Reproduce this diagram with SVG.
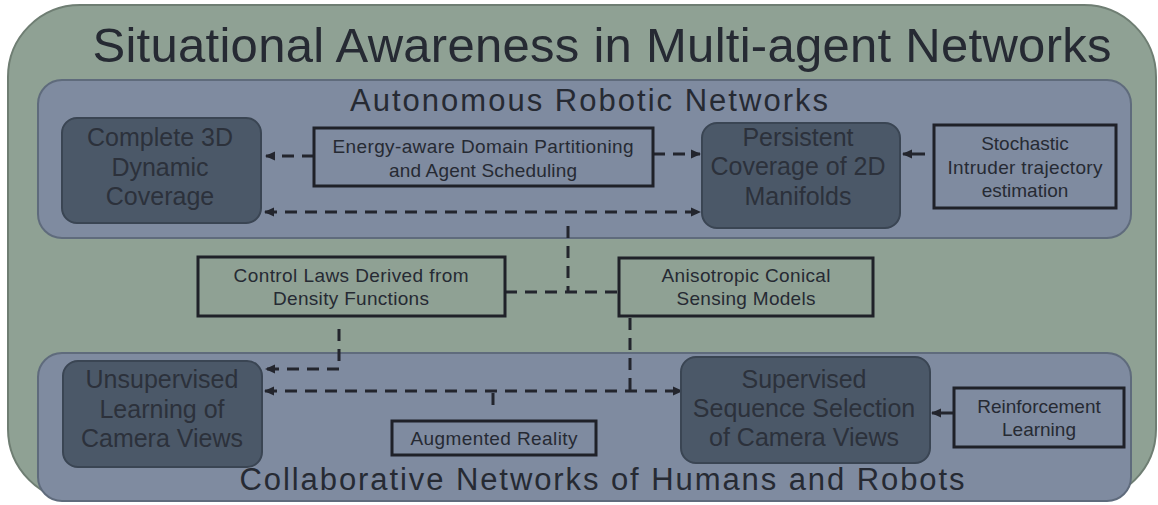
<svg xmlns="http://www.w3.org/2000/svg" width="1158" height="505" viewBox="0 0 1158 505">
  <defs>
    <marker id="ah" viewBox="0 0 10 10" refX="9" refY="5" markerWidth="10" markerHeight="10" markerUnits="userSpaceOnUse" orient="auto-start-reverse">
      <path d="M0,0.5 L10,5 L0,9.5 Z" fill="#23252d"/>
    </marker>
  </defs>
  <style>
    text { font-family: "Liberation Sans", Arial, sans-serif; fill: #262a33; text-anchor: middle; }
    .title { font-size: 49px; }
    .panel-title { font-size: 31px; }
    .big { font-size: 25px; fill: #2c313b; }
    .small { font-size: 19px; }
    .outer { fill: #8fa194; stroke: #6f7e73; stroke-width: 2; }
    .panel { fill: #7f8ba0; stroke: #5f6b7c; stroke-width: 2; }
    .core { fill: #4b5868; stroke: #3a4553; stroke-width: 2; }
    .method { fill: none; stroke: #1f2128; stroke-width: 3; }
    .dash { fill: none; stroke: #23252d; stroke-width: 3; stroke-dasharray: 12 8; }
    .solid { fill: none; stroke: #23252d; stroke-width: 3; }
  </style>

  <!-- background frame -->
  <rect class="outer" x="8" y="5" width="1148" height="496" rx="72" ry="72"/>
  <text class="title" x="602" y="62" textLength="1019" lengthAdjust="spacing">Situational Awareness in Multi-agent Networks</text>

  <!-- upper panel -->
  <g id="panel-autonomous">
    <rect class="panel" x="38" y="80" width="1093" height="158" rx="24" ry="24"/>
    <text class="panel-title" x="589" y="111" textLength="478" lengthAdjust="spacing">Autonomous Robotic Networks</text>
  </g>

  <!-- lower panel -->
  <g id="panel-collaborative">
    <rect class="panel" x="38" y="353" width="1093" height="148" rx="24" ry="24"/>
    <text class="panel-title" x="602" y="490" textLength="725" lengthAdjust="spacing">Collaborative Networks of Humans and Robots</text>
  </g>

  <!-- connectors -->
  <g id="connectors">
    <line class="dash" x1="314" y1="156" x2="266" y2="156" marker-end="url(#ah)"/>
    <line class="dash" x1="653" y1="154" x2="700" y2="154" marker-end="url(#ah)"/>
    <line class="solid" x1="925" y1="154" x2="903" y2="154" marker-end="url(#ah)"/>
    <line class="dash" x1="265" y1="212" x2="700" y2="212" marker-start="url(#ah)" marker-end="url(#ah)"/>
    <line class="dash" x1="568" y1="226" x2="568" y2="293"/>
    <line class="dash" x1="505" y1="292" x2="617" y2="292"/>
    <polyline class="dash" points="339,329 339,369 266,369" marker-end="url(#ah)"/>
    <line class="dash" x1="265" y1="391" x2="682" y2="391" marker-start="url(#ah)" marker-end="url(#ah)"/>
    <line class="dash" x1="630" y1="318" x2="630" y2="391"/>
    <line class="dash" x1="493" y1="393" x2="493" y2="412"/>
    <line class="solid" x1="954" y1="413" x2="932" y2="413" marker-end="url(#ah)"/>
  </g>

  <g id="complete-3d">
    <rect class="core" x="62" y="118" width="199" height="105" rx="15" ry="15"/>
    <text class="big" x="160" y="146">Complete 3D</text>
    <text class="big" x="160" y="176">Dynamic</text>
    <text class="big" x="160" y="205">Coverage</text>
  </g>

  <g id="energy-aware">
    <rect class="method" x="314" y="128" width="339" height="58"/>
    <text class="small" x="483" y="153" textLength="301" lengthAdjust="spacing">Energy-aware Domain Partitioning</text>
    <text class="small" x="483" y="177" textLength="188" lengthAdjust="spacing">and Agent Scheduling</text>
  </g>

  <g id="persistent-2d">
    <rect class="core" x="702" y="123" width="198" height="105" rx="15" ry="15"/>
    <text class="big" x="798" y="146">Persistent</text>
    <text class="big" x="798" y="175">Coverage of 2D</text>
    <text class="big" x="798" y="205">Manifolds</text>
  </g>

  <g id="stochastic">
    <rect class="method" x="934" y="125" width="182" height="83"/>
    <text class="small" x="1025" y="150">Stochastic</text>
    <text class="small" x="1025" y="174" textLength="155" lengthAdjust="spacing">Intruder trajectory</text>
    <text class="small" x="1025" y="197">estimation</text>
  </g>

  <g id="control-laws">
    <rect class="method" x="198" y="257" width="307" height="59"/>
    <text class="small" x="351" y="282" textLength="235" lengthAdjust="spacing">Control Laws Derived from</text>
    <text class="small" x="351" y="305" textLength="156" lengthAdjust="spacing">Density Functions</text>
  </g>

  <g id="anisotropic">
    <rect class="method" x="619" y="258" width="254" height="58"/>
    <text class="small" x="746" y="282" textLength="169" lengthAdjust="spacing">Anisotropic Conical</text>
    <text class="small" x="746" y="305" textLength="139" lengthAdjust="spacing">Sensing Models</text>
  </g>

  <g id="unsupervised">
    <rect class="core" x="63" y="361" width="199" height="106" rx="15" ry="15"/>
    <text class="big" x="162" y="388">Unsupervised</text>
    <text class="big" x="162" y="418">Learning of</text>
    <text class="big" x="162" y="447">Camera Views</text>
  </g>

  <g id="augmented-reality">
    <rect class="method" x="392" y="421" width="204" height="34"/>
    <text class="small" x="494" y="445" textLength="167" lengthAdjust="spacing">Augmented Reality</text>
  </g>

  <g id="supervised">
    <rect class="core" x="681" y="357" width="249" height="106" rx="15" ry="15"/>
    <text class="big" x="804" y="388">Supervised</text>
    <text class="big" x="804" y="417">Sequence Selection</text>
    <text class="big" x="804" y="446">of Camera Views</text>
  </g>

  <g id="reinforcement">
    <rect class="method" x="954" y="388" width="170" height="59"/>
    <text class="small" x="1039" y="413">Reinforcement</text>
    <text class="small" x="1039" y="436">Learning</text>
  </g>
</svg>
